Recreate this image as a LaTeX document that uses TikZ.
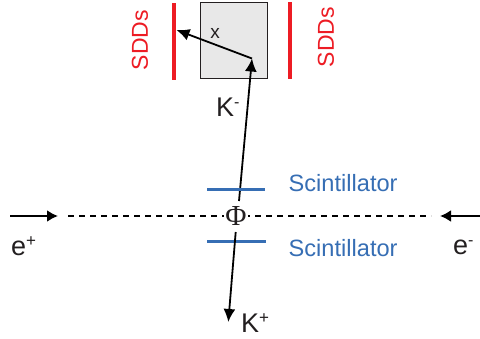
\documentclass[tikz,border=0pt]{standalone}
\usepackage{fontspec}
\setmainfont{Liberation Sans}
\newfontfamily\phifont{Liberation Serif}
\usetikzlibrary{arrows.meta}
\definecolor{sddred}{RGB}{237,28,36}
\definecolor{scblue}{RGB}{54,110,180}
\definecolor{boxgray}{RGB}{232,232,232}
\definecolor{txt}{RGB}{35,31,32}
\tikzset{
  x=1pt,y=-1pt,
  lbl/.style={inner sep=0pt,text=txt,font=\fontsize{27}{27}\selectfont},
  sddlbl/.style={inner sep=0pt,text=sddred,rotate=90,font=\fontsize{23}{23}\selectfont},
  sclbl/.style={inner sep=0pt,text=scblue,font=\fontsize{23.6}{24}\selectfont},
  sdd/.style={draw=sddred,line width=3.8pt},
  scint/.style={draw=scblue,line width=3pt},
  beam/.style={draw=black,line width=2.4pt,-{Latex[length=11pt,width=12pt]}},
  track/.style={draw=black,line width=1.8pt,-{Latex[length=13pt,width=12pt]}},
}
\begin{document}
\begin{tikzpicture}
\useasboundingbox (0,0) rectangle (480,338);
\node[draw=txt,fill=boxgray,line width=1.4pt,minimum width=67.5pt,minimum height=76.5pt,inner sep=0pt] (target) at (234,40.5) {};
\coordinate (sddLa) at (173.8,3); \coordinate (sddLb) at (173.8,80);
\coordinate (sddRa) at (290,2); \coordinate (sddRb) at (290,79);
\draw[sdd] (sddLa) -- (sddLb);
\draw[sdd] (sddRa) -- (sddRb);
\node[sddlbl] (sddL) at (140,40) {SDDs};
\node[sddlbl] (sddR) at (326,37) {SDDs};
\node[inner sep=0pt,text=txt,font=\fontsize{19}{19}\selectfont] (x) at (215,33) {x};
\coordinate (vtx) at (252,58.5);
\coordinate (xend) at (176.5,30);
\draw[track] (vtx) -- (xend);
\coordinate (kmstart) at (239,201);
\draw[track] (kmstart) -- (vtx);
\node[lbl,anchor=base west] (km) at (216,116) {K\raisebox{9pt}{\fontsize{16}{16}\selectfont -}};
\coordinate (sc1a) at (207,189); \coordinate (sc1b) at (265,189);
\coordinate (sc2a) at (207,241); \coordinate (sc2b) at (266,241);
\coordinate (dashL) at (68,216); \coordinate (dashR) at (431,216);
\draw[line width=1.3pt,dash pattern=on 5.5pt off 5.5pt] (dashL) -- (dashR);
\node[fill=white,inner sep=1.5pt,text=txt,font=\phifont\fontsize{29}{29}\selectfont] (phi) at (236,216) {Φ};
\draw[scint] (sc1a) -- (sc1b);
\draw[scint] (sc2a) -- (sc2b);
\node[sclbl,anchor=base west] (s1) at (288.5,191) {Scintillator};
\node[sclbl,anchor=base west] (s2) at (288.5,256) {Scintillator};
\coordinate (kpstart) at (235.7,232);
\coordinate (kpend) at (228.3,322);
\draw[track] (kpstart) -- (kpend);
\node[lbl,anchor=base west] (kp) at (241,332) {K\raisebox{9pt}{\fontsize{17}{17}\selectfont +}};
\coordinate (eLa) at (10,216); \coordinate (eLb) at (58,216);
\coordinate (eRa) at (480,216); \coordinate (eRb) at (440,216);
\draw[beam] (eLa) -- (eLb);
\draw[beam] (eRa) -- (eRb);
\node[lbl,anchor=base west] (ep) at (11,255) {e\raisebox{9pt}{\fontsize{17}{17}\selectfont +}};
\node[lbl,anchor=base west] (em) at (453,254) {e\raisebox{9pt}{\fontsize{16}{16}\selectfont -}};
\end{tikzpicture}
\end{document}
